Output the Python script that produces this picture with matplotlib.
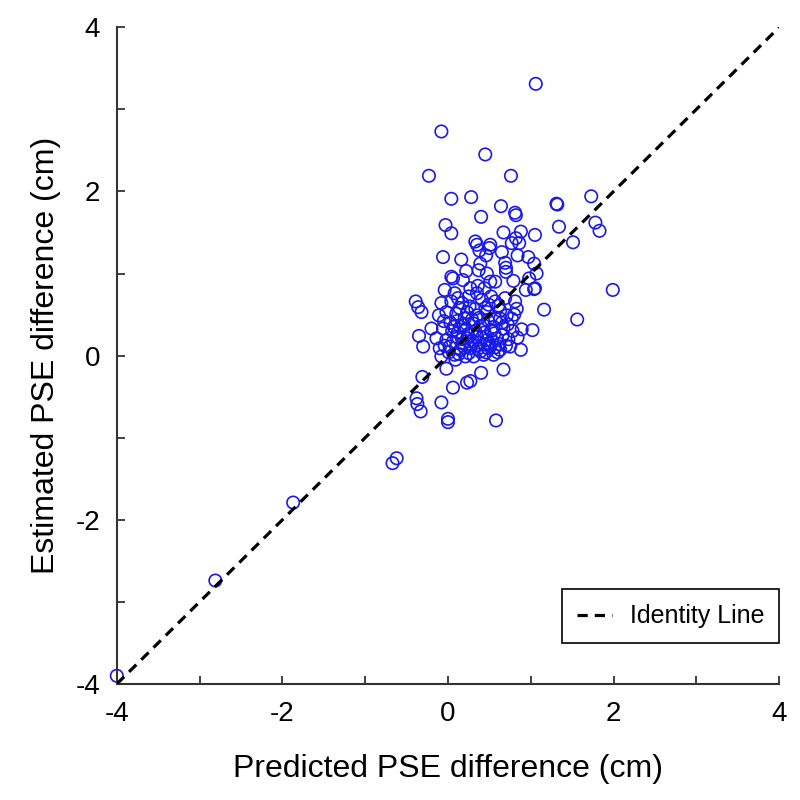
import matplotlib
matplotlib.use("Agg")
import matplotlib.pyplot as plt

plt.rcParams['font.family'] = ['Liberation Sans', 'DejaVu Sans']
plt.rcParams['axes.unicode_minus'] = False

# Predicted PSE difference (x) and estimated PSE difference (y), cm
predicted = [
    1.06, -0.08, 0.45, -0.23, 0.76, 0.04, 0.28, 0.64, 0.81, 0.82, 0.40, 1.31, 1.32, 1.73,
    -0.03, 0.04, 0.67, 0.88, 1.05, 1.34, 1.78, 1.83, 1.51, 0.33, 0.35, 0.51, 0.82, 0.86,
    0.77, 0.50, 0.65, 0.38, -0.06, 0.16, 0.84, 0.97, 0.46,
    1.04, 0.69, 0.70, 0.70, 0.22, 0.37, 0.47, 0.04, 0.06, 0.18, 0.51, 0.57, 0.79, 0.98,
    0.94, 1.04, 1.99, -0.04, 0.08, 0.27, 0.35, -0.39, -0.36, -0.32, -0.08, 0.04, 0.17,
    0.41, 0.49, 0.57, 0.81, 0.83, 1.16, 1.56, -0.11, -0.02, 0.10, 0.23, 0.35, 0.47, 0.63,
    0.71, 0.77, -0.20, -0.06, 0.07, 0.19, 0.31, 0.43, 0.55, 0.67, 0.89, 1.02, -0.35,
    -0.30, -0.14, -0.02, 0.10, 0.23, 0.35, 0.47, 0.59, 0.73, -0.10, 0.02, 0.15, 0.27,
    0.39, 0.51, 0.63, 0.75, 0.88, -0.08, 0.08, 0.21, 0.31, 0.43, 0.55, -0.02, 0.40, 0.67,
    -0.31, 0.06, 0.23, 0.27, -0.38, -0.37, -0.33, -0.08, 0.00, 0.00, 0.58,
    -4.00, -2.81, -1.87, -0.67, -0.62,
    0.39, 1.07, 1.05,
    0.05, 0.12, 0.18, 0.22, 0.28, 0.33, 0.38, 0.44, 0.50, 0.56, 0.62, 0.01, 0.06, 0.13,
    0.17, 0.25, 0.30, 0.36, 0.41, 0.46, 0.53, 0.60, 0.66, 0.70, 0.11, 0.20, 0.29, 0.38,
    0.48, 0.57, 0.65, 0.14, 0.26, 0.33, 0.45, 0.52, 0.61, 0.69, 0.25, 0.12, 0.36, 0.44,
    0.03, -0.04, 0.09, 0.20, 0.34, 0.48, 0.57, 0.44, 0.24, 0.15, 0.52, 0.39, 0.63, 0.72,
    0.78, 0.84, 0.80, -0.05,
]
estimated = [
    3.31, 2.73, 2.45, 2.19, 2.19, 1.91, 1.93, 1.82, 1.74, 1.71, 1.69, 1.85, 1.84, 1.94,
    1.59, 1.49, 1.50, 1.51, 1.47, 1.57, 1.62, 1.52, 1.38, 1.39, 1.35, 1.35, 1.43, 1.37,
    1.37, 1.31, 1.26, 1.28, 1.20, 1.17, 1.22, 1.20, 1.22,
    1.12, 1.13, 1.07, 1.02, 1.03, 1.04, 1.00, 0.96, 0.94, 0.92, 0.90, 0.90, 0.91, 0.94,
    0.80, 0.81, 0.80, 0.80, 0.76, 0.82, 0.76, 0.66, 0.59, 0.53, 0.64, 0.66, 0.64,
    0.68, 0.62, 0.66, 0.66, 0.57, 0.56, 0.44, 0.49, 0.53, 0.51, 0.53, 0.49, 0.53, 0.55,
    0.49, 0.45, 0.33, 0.33, 0.35, 0.37, 0.39, 0.37, 0.35, 0.33, 0.32, 0.31, 0.24,
    0.11, 0.21, 0.19, 0.23, 0.21, 0.23, 0.19, 0.21, 0.20, 0.09, 0.11, 0.07, 0.09,
    0.05, 0.11, 0.07, 0.11, 0.07, -0.01, 0.01, -0.01, -0.01, 0.01, 0.01, -0.16, -0.21, -0.17,
    -0.26, -0.39, -0.33, -0.31, -0.52, -0.59, -0.68, -0.57, -0.77, -0.81, -0.79,
    -3.90, -2.74, -1.79, -1.31, -1.25,
    1.12, 1.00, 0.82,
    0.30, 0.28, 0.15, 0.32, 0.14, 0.30, 0.16, 0.28, 0.15, 0.27, 0.14, 0.04, 0.17, 0.02,
    0.20, 0.03, 0.18, 0.08, 0.22, 0.04, 0.18, 0.04, 0.25, 0.12, 0.42, 0.45, 0.44, 0.46,
    0.43, 0.45, 0.40, 0.58, 0.60, 0.57, 0.58, 0.72, 0.61, 0.70, 0.72, 0.70, 0.85, 0.82,
    0.40, 0.12, -0.05, 0.10, 0.12, 0.09, 0.10, 0.14, 0.26, 0.35, 0.30, 0.36, 0.45, 0.38,
    0.30, 0.22, 0.50, 0.42,
]

identity = [-4, 4]
major_ticks = [-4, -2, 0, 2, 4]
minor_ticks = [-3, -1, 1, 3]

fig = plt.figure(figsize=(8, 8), dpi=100)
ax = fig.add_axes([0.146, 0.145, 0.828, 0.821])

ax.scatter(predicted, estimated, s=80, facecolors='none', edgecolors='#1a1ae6',
           linewidths=1.2, zorder=2, clip_on=False)
ax.plot(identity, identity, color='black', linestyle=(0, (3.2, 2.2)), linewidth=2.3,
        label='Identity Line', zorder=3)

ax.set_xlim(-4, 4)
ax.set_ylim(-4, 4)
ax.set_xticks(major_ticks)
ax.set_yticks(major_ticks)
ax.set_xticks(minor_ticks, minor=True)
ax.set_yticks(minor_ticks, minor=True)
ax.set_xticklabels([str(t) for t in major_ticks])
ax.set_yticklabels([str(t) for t in major_ticks])
ax.tick_params(which='both', direction='in', length=6, width=1.3, color='#333333',
               labelsize=20, pad=12)

for side in ['top', 'right']:
    ax.spines[side].set_visible(False)
for side in ['left', 'bottom']:
    ax.spines[side].set_linewidth(1.5)
    ax.spines[side].set_color('#333333')

ax.set_xlabel('Predicted PSE difference (cm)', fontsize=23, labelpad=20)
ax.set_ylabel('Estimated PSE difference (cm)', fontsize=23, labelpad=10)

leg = ax.legend(loc='lower right', bbox_to_anchor=(1.0, 0.062), borderaxespad=0,
                fontsize=18, handlelength=1.4, fancybox=False, framealpha=1,
                edgecolor='black', borderpad=0.6, handletextpad=0.7)
leg.get_frame().set_linewidth(1.2)

fig.savefig('out.png', dpi=100)
